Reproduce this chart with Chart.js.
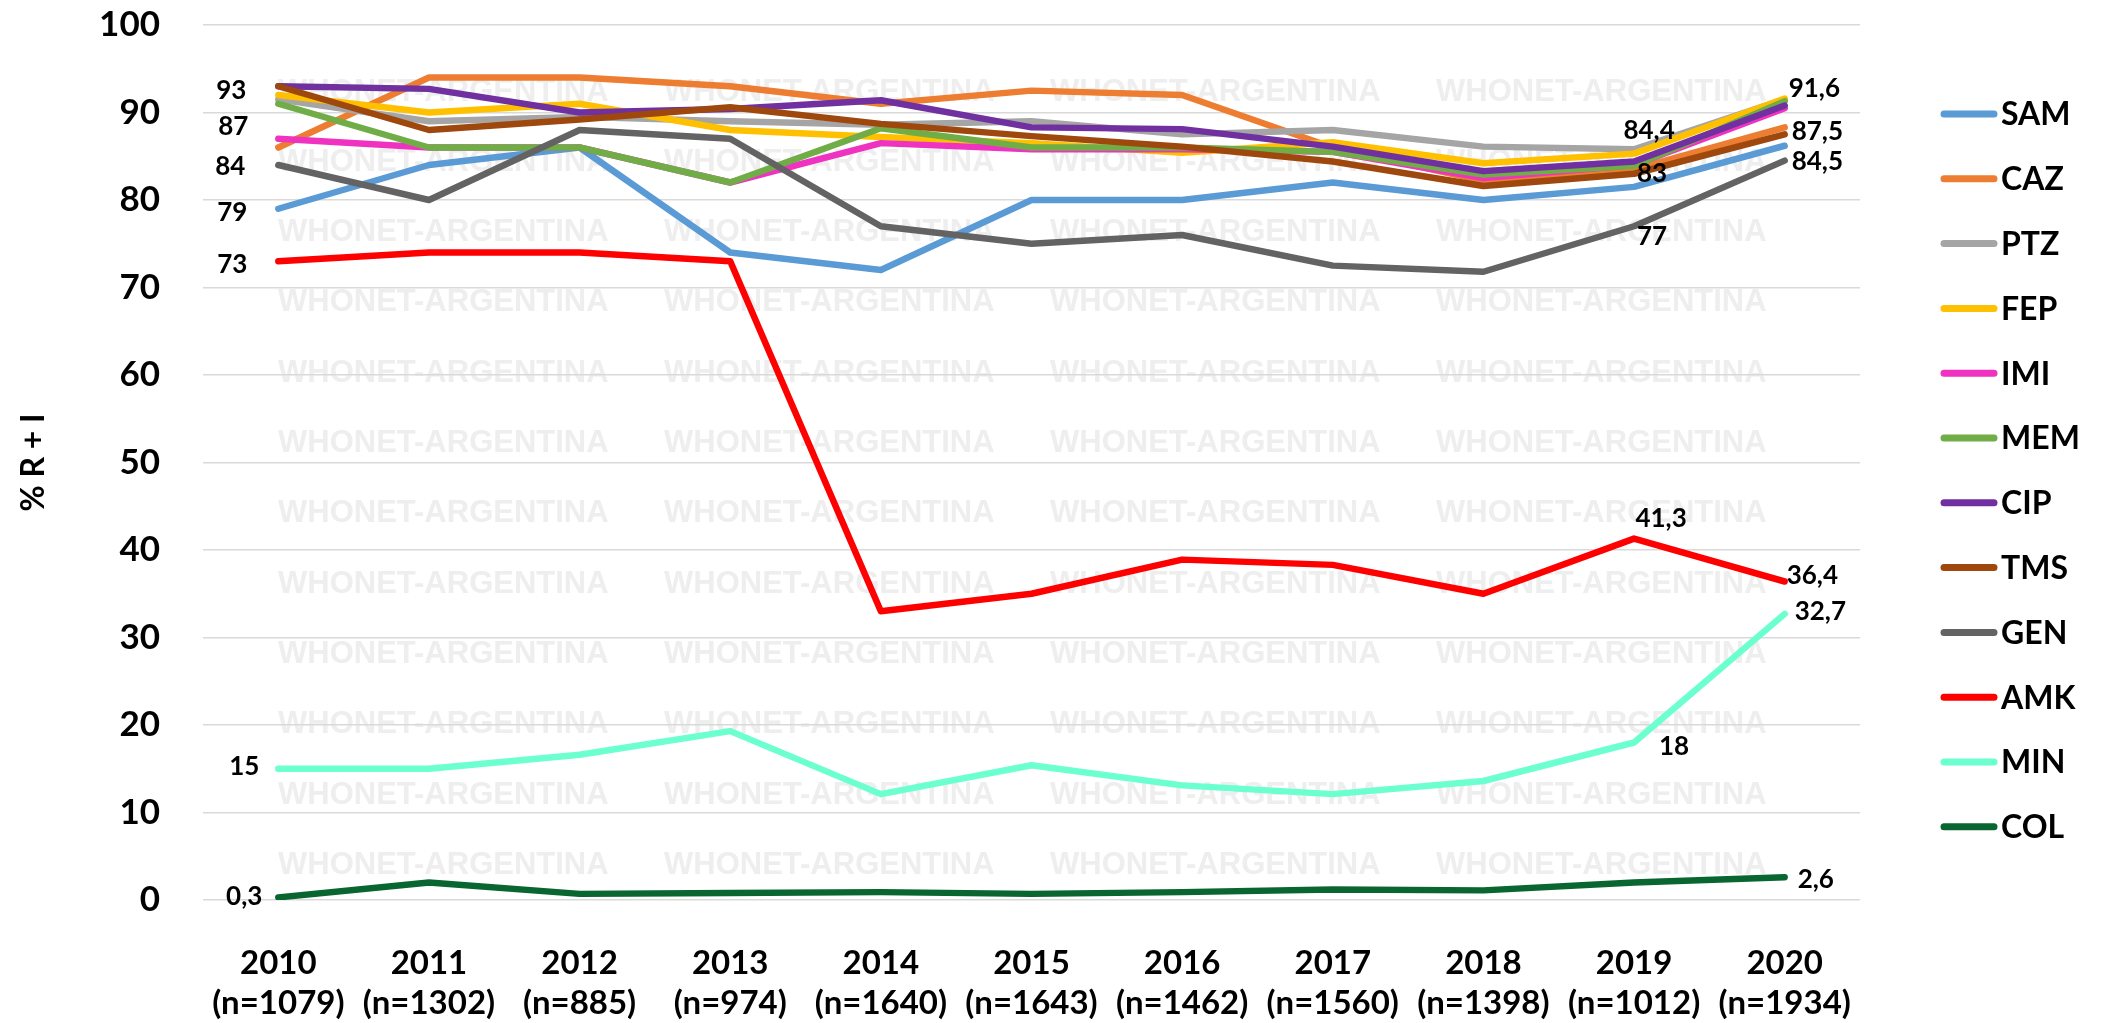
<!DOCTYPE html>
<html>
<head>
<meta charset="utf-8">
<script src="https://cdn.jsdelivr.net/npm/chart.js@4.4.1/dist/chart.umd.min.js"></script>
<style>
  html, body { margin: 0; padding: 0; background: #fff; }
</style>
</head>
<body>
<canvas id="grafico" width="2101" height="1023"></canvas>
<script>
// datos
const years = ['2010', '2011', '2012', '2013', '2014', '2015', '2016', '2017', '2018', '2019', '2020'];
const nAislamientos = ['1079', '1302', '885', '974', '1640', '1643', '1462', '1560', '1398', '1012', '1934'];

const SAM = [79, 84, 86, 74, 72, 80, 80, 82, 80, 81.5, 86.2];
const CAZ = [86, 94, 94, 93, 91, 92.5, 92, 86, 82.2, 83.5, 88.3];
const PTZ = [91.5, 89, 89.5, 89, 88.6, 89, 87.5, 88, 86.1, 85.8, 91.5];
const FEP = [92, 90, 91, 88, 87.2, 86.5, 85.4, 86.6, 84.2, 85.3, 91.6];
const IMI = [87, 86, 86, 82, 86.5, 85.8, 85.8, 85.5, 82.5, 84, 90.5];
const MEM = [91, 86, 86, 82, 88.2, 86, 86, 85.5, 82.9, 83.9, 91.3];
const CIP = [93, 92.7, 90, 90.4, 91.4, 88.3, 88.1, 86.1, 83.3, 84.4, 90.8];
const TMS = [93, 88, 89.2, 90.6, 88.7, 87.3, 86.1, 84.4, 81.6, 83, 87.5];
const GEN = [84, 80, 88, 87, 77, 75, 76, 72.5, 71.8, 77, 84.5];
const AMK = [73, 74, 74, 73, 33, 35, 38.9, 38.3, 35, 41.3, 36.4];
const MIN = [15, 15, 16.6, 19.3, 12.1, 15.4, 13.1, 12.1, 13.6, 18, 32.7];
const COL = [0.3, 2, 0.7, 0.8, 0.9, 0.7, 0.9, 1.2, 1.1, 2, 2.6];

const nombres = ['SAM', 'CAZ', 'PTZ', 'FEP', 'IMI', 'MEM', 'CIP', 'TMS', 'GEN', 'AMK', 'MIN', 'COL'];
const series = [SAM, CAZ, PTZ, FEP, IMI, MEM, CIP, TMS, GEN, AMK, MIN, COL];
const colores = ['#5B9BD5', '#ED7D31', '#A5A5A5', '#FFC000', '#F032C0', '#70AD47',
                 '#7030A0', '#9E480E', '#636363', '#FF0000', '#6CFFCF', '#0A6630'];
const yTicks = [0, 10, 20, 30, 40, 50, 60, 70, 80, 90, 100];

// etiquetas de valor: serie, indice del año, alineacion, desplazamiento
const etiquetas = [
  ['TMS', 0, 'right', -32, 4],
  ['IMI', 0, 'right', -30, -12],
  ['GEN', 0, 'right', -33, 2],
  ['SAM', 0, 'right', -31, 4],
  ['AMK', 0, 'right', -31, 3],
  ['MIN', 0, 'right', -19, -2],
  ['COL', 0, 'right', -16, -1],
  ['FEP', 10, 'left', 4, -10],
  ['TMS', 10, 'left', 7, -3],
  ['GEN', 10, 'left', 7, 1],
  ['CIP', 9, 'center', 15, -31],
  ['TMS', 9, 'center', 18, 0],
  ['GEN', 9, 'center', 18, 10],
  ['AMK', 9, 'center', 27, -20],
  ['AMK', 10, 'left', 2, -6],
  ['MIN', 10, 'left', 10, -2],
  ['MIN', 9, 'center', 40, 4],
  ['COL', 10, 'left', 13, 2]
];

const fuente = 'Lato, "Open Sans", sans-serif';

const fondoMarca = {
  id: 'fondoMarca',
  beforeDraw(chart) {
    const ctx = chart.ctx;
    ctx.save();
    ctx.fillStyle = '#ffffff';
    ctx.fillRect(0, 0, chart.width, chart.height);
    ctx.fillStyle = '#EEEEEE';
    ctx.font = 'bold 31px "Liberation Sans", Arial, sans-serif';
    ctx.textAlign = 'left';
    ctx.textBaseline = 'middle';
    for (let f = 0; f < 12; f++) {
      for (let c = 0; c < 4; c++) {
        ctx.fillText('WHONET-ARGENTINA', 278 + c * 386, 92 + f * 70.3, 348);
      }
    }
    ctx.restore();
  }
};

const valores = {
  id: 'valores',
  afterDatasetsDraw(chart) {
    const ctx = chart.ctx;
    ctx.save();
    ctx.fillStyle = '#000';
    ctx.font = 'bold 26px ' + fuente;
    ctx.textBaseline = 'middle';
    etiquetas.forEach(e => {
      const di = nombres.indexOf(e[0]);
      const pt = chart.getDatasetMeta(di).data[e[1]];
      const v = series[di][e[1]];
      ctx.textAlign = e[2];
      ctx.fillText(String(v).replace('.', ','), pt.x + e[3], pt.y + e[4]);
    });
    ctx.restore();
  }
};

const leyenda = {
  id: 'leyenda',
  afterDraw(chart) {
    const ctx = chart.ctx;
    ctx.save();
    ctx.lineCap = 'round';
    ctx.lineWidth = 7;
    ctx.font = 'bold 32px ' + fuente;
    ctx.textBaseline = 'middle';
    ctx.textAlign = 'left';
    nombres.forEach((n, i) => {
      const y = 114 + i * 64.8;
      ctx.strokeStyle = colores[i];
      ctx.beginPath();
      ctx.moveTo(1944, y);
      ctx.lineTo(1994, y);
      ctx.stroke();
      ctx.fillStyle = '#000';
      ctx.fillText(n, 2001, y + 1);
    });
    ctx.restore();
  }
};

const datasets = nombres.map((n, i) => ({
  label: n,
  data: series[i],
  borderColor: colores[i],
  backgroundColor: colores[i],
  borderWidth: 6.5,
  borderJoinStyle: 'round',
  borderCapStyle: 'round',
  pointRadius: 0,
  tension: 0,
  order: nombres.length - i
}));

new Chart(document.getElementById('grafico'), {
  type: 'line',
  data: {
    labels: years.map((y, i) => [y, '(n=' + nAislamientos[i] + ')']),
    datasets: datasets
  },
  options: {
    responsive: false,
    animation: false,
    layout: { padding: { top: 25, left: 10, right: 241, bottom: 0 } },
    plugins: {
      legend: { display: false },
      tooltip: { enabled: false }
    },
    scales: {
      x: {
        offset: true,
        grid: { display: false },
        border: { display: false },
        ticks: {
          color: '#000',
          padding: 36,
          maxRotation: 0,
          font: { family: fuente, size: 33, weight: 'bold', lineHeight: 1.2 }
        },
        afterFit: s => { s.height = 123; }
      },
      y: {
        min: 0,
        max: 100,
        afterBuildTicks: s => { s.ticks = yTicks.map(v => ({ value: v })); },
        grid: { color: '#D9D9D9', lineWidth: 1.5, drawTicks: false },
        border: { display: false },
        ticks: {
          color: '#000',
          padding: 43,
          font: { family: fuente, size: 35, weight: 'bold' }
        },
        title: {
          display: true,
          text: '% R + I',
          color: '#000',
          padding: { top: 4, bottom: 10 },
          font: { family: fuente, size: 32, weight: 'bold' }
        },
        afterFit: s => { s.width = 193; s.paddingTop = 0; s.paddingBottom = 0; }
      }
    }
  },
  plugins: [fondoMarca, valores, leyenda]
});
</script>
</body>
</html>
